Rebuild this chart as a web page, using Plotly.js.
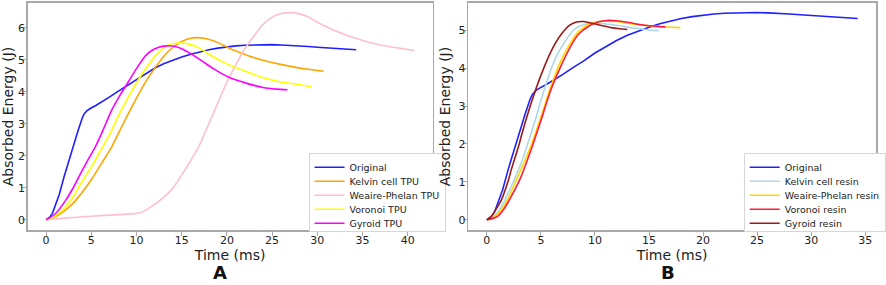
<!DOCTYPE html>
<html>
<head>
<meta charset="utf-8">
<script src="https://cdn.plot.ly/plotly-3.0.1.min.js"></script>
<style>html,body{margin:0;padding:0;background:#fff;}#chart{width:886px;height:285px;}</style>
</head>
<body>
<div id="chart"></div>
<script>
// ---- Data ----
const originalT = [0,0.4,0.7,1,1.45,2,2.36,3,3.5,4,4.2,4.5,4.8,5.5,6,7,8,8.9,10,11,12,13,14,15,16,17,18,19,20,21,22,23,24,25,26,27,28,29,30,31,32,33,34.3];
const originalE = [0,0.08,0.2,0.42,0.78,1.35,1.7,2.28,2.75,3.18,3.3,3.4,3.46,3.57,3.65,3.83,4.02,4.18,4.4,4.57,4.73,4.87,4.98,5.08,5.17,5.25,5.31,5.36,5.4,5.43,5.45,5.46,5.47,5.47,5.46,5.45,5.43,5.41,5.39,5.37,5.35,5.33,5.31];

const kelvinTpuT = [0,1,2,3,3.64,4,5,5.45,6,7,7.27,8,9,10,11,12,13,14,15,16,16.7,17.5,18.5,19.5,20.3,21,22.2,24,25.8,27.6,29,30.7];
const kelvinTpuE = [0,0.09,0.27,0.52,0.73,0.86,1.25,1.45,1.7,2.15,2.28,2.7,3.26,3.8,4.3,4.72,5.1,5.38,5.57,5.67,5.69,5.67,5.59,5.47,5.35,5.27,5.14,4.98,4.86,4.76,4.7,4.64];

const weaireTpuT = [0,2,4,6,8,10,10.5,11,12,13,14,15,16,17,18,19,20,21,22,23,24,25,26,27,28,29,30,31,32,33,34,35,36,37,38,39,40,40.7];
const weaireTpuE = [0,0.05,0.09,0.13,0.16,0.2,0.23,0.3,0.48,0.7,0.98,1.4,1.85,2.35,3.0,3.65,4.3,4.85,5.35,5.75,6.1,6.33,6.44,6.47,6.43,6.33,6.17,6.03,5.9,5.79,5.69,5.6,5.52,5.46,5.41,5.36,5.32,5.29];

const voronoiTpuT = [0,1,2,3,3.64,4,5,5.45,6,7,7.27,8,9,10,10.9,12,12.7,13.5,14.5,15,16,16.7,17.5,18.5,19.5,20.3,22.2,24,25.8,27.6,29.4];
const voronoiTpuE = [0,0.12,0.36,0.72,1.04,1.2,1.65,1.87,2.15,2.65,2.8,3.25,3.78,4.28,4.67,5.1,5.3,5.45,5.52,5.52,5.47,5.4,5.27,5.09,4.94,4.83,4.62,4.44,4.31,4.24,4.15];

const gyroidTpuT = [0,1,2.2,3,3.64,4.5,5.45,6.3,7.27,8.2,9.1,10,10.9,11.6,12.4,13.3,14.2,15,16,17.2,18.5,20.3,22.2,24,25.5,26.7];
const gyroidTpuE = [0,0.18,0.62,1.0,1.35,1.8,2.28,2.8,3.43,3.9,4.31,4.72,5.09,5.27,5.38,5.43,5.42,5.34,5.19,4.97,4.72,4.44,4.26,4.13,4.08,4.06];

const kelvinResinT = [0,0.5,1,1.5,2,2.5,3,3.5,4,4.5,5,5.5,6,6.5,7,7.5,8,8.5,9,9.8,10.5,11.5,12.3,13.3,14.4,15.2,15.9];
const kelvinResinE = [0,0.05,0.2,0.42,0.72,1.03,1.37,1.75,2.2,2.65,3.15,3.6,4.02,4.35,4.6,4.82,5.0,5.1,5.15,5.18,5.18,5.15,5.12,5.07,5.03,5.0,4.99];

const weaireResinT = [0,0.5,1,1.5,2,2.86,3.5,4.08,5,5.9,6.8,7.7,8.5,9.5,10.3,11,12,13,14,15,16,17,17.9];
const weaireResinE = [0,0.04,0.15,0.33,0.58,1.14,1.55,1.95,2.71,3.5,4.16,4.65,4.97,5.17,5.23,5.24,5.23,5.19,5.15,5.12,5.09,5.08,5.07];

const voronoiResinT = [0,0.5,1,1.5,2.25,3.17,4.08,5,5.9,6.8,7.7,8.5,9.5,10.3,11.1,12,13,14,15,16,16.5];
const voronoiResinE = [0,0.03,0.09,0.25,0.61,1.14,1.84,2.62,3.41,4.02,4.55,4.9,5.12,5.22,5.26,5.25,5.21,5.16,5.12,5.1,5.09];

const gyroidResinT = [0,0.43,1,1.34,2,2.25,3,3.17,4.08,5,5.9,6.8,7.7,8.3,8.9,9.5,10.1,10.7,11.5,12.3,13];
const gyroidResinE = [0,0.09,0.35,0.52,1.05,1.31,2.0,2.19,3.06,3.81,4.42,4.86,5.14,5.22,5.23,5.2,5.16,5.12,5.07,5.04,5.02];

const xTitle = 'Time (ms)';
const yTitle = 'Absorbed Energy (J)';
const panelLabels = ['A', 'B'];

// ---- Traces ----
function tr(x, y, name, color, ax, leg, shape) {
  return {x: x, y: y, name: name, type: 'scatter', mode: 'lines',
    line: {color: color, width: 1.6, shape: shape || 'spline', smoothing: 0.6},
    xaxis: ax === 2 ? 'x2' : 'x', yaxis: ax === 2 ? 'y2' : 'y', legend: leg};
}
const data = [
  tr(originalT, originalE, 'Original', '#1f1fff', 1, 'legend', 'linear'),
  tr(kelvinTpuT, kelvinTpuE, 'Kelvin cell TPU', '#ffa500', 1, 'legend'),
  tr(weaireTpuT, weaireTpuE, 'Weaire-Phelan TPU', '#ffc0cb', 1, 'legend'),
  tr(voronoiTpuT, voronoiTpuE, 'Voronoi TPU', '#ffff00', 1, 'legend'),
  tr(gyroidTpuT, gyroidTpuE, 'Gyroid TPU', '#ff00ff', 1, 'legend'),
  tr(originalT, originalE, 'Original', '#1f1fff', 2, 'legend2', 'linear'),
  tr(kelvinResinT, kelvinResinE, 'Kelvin cell resin', '#add8e6', 2, 'legend2'),
  tr(weaireResinT, weaireResinE, 'Weaire-Phelan resin', '#ffd700', 2, 'legend2'),
  tr(voronoiResinT, voronoiResinE, 'Voronoi resin', '#ff1a3c', 2, 'legend2'),
  tr(gyroidResinT, gyroidResinE, 'Gyroid resin', '#9b1b1b', 2, 'legend2')
];

const font = {family: 'DejaVu Sans, sans-serif', color: '#222'};
function axis(extra) {
  return Object.assign({
    showline: true, mirror: true, linecolor: '#a8a8a8', linewidth: 1.6,
    showgrid: false, zeroline: false, ticks: 'outside', ticklen: 4, tickwidth: 1,
    tickcolor: '#a8a8a8', ticklabelstandoff: -5,
    tickfont: {size: 11, family: font.family, color: '#222'}
  }, extra);
}
const legendStyle = {yanchor: 'top', xanchor: 'left', y: 0.338, bgcolor: '#fff',
  bordercolor: '#d6d6d6', borderwidth: 1, font: {size: 9.5, color: '#222'},
  itemwidth: 30, tracegroupgap: 0};
const layout = {
  width: 886, height: 285,
  margin: {l: 0, r: 0, t: 3, b: 55},
  paper_bgcolor: '#fff', plot_bgcolor: '#fff',
  font: font, showlegend: true,
  xaxis: axis({domain: [0.0316, 0.4932], range: [-2.03, 42.74], dtick: 5, anchor: 'y',
    title: {text: xTitle, font: {size: 14}, standoff: 1}}),
  yaxis: axis({domain: [0, 1], range: [-0.32, 6.77], dtick: 1, anchor: 'x',
    title: {text: yTitle, font: {size: 14}, standoff: 4}}),
  xaxis2: axis({domain: [0.5339, 0.9989], range: [-1.72, 36.0], dtick: 5, anchor: 'y2',
    title: {text: xTitle, font: {size: 14}, standoff: 1}}),
  yaxis2: axis({domain: [0, 1], range: [-0.27, 5.72], dtick: 1, anchor: 'x2',
    title: {text: yTitle, font: {size: 14}, standoff: 4}}),
  legend: Object.assign({x: 0.3518}, legendStyle),
  legend2: Object.assign({x: 0.848}, legendStyle),
  annotations: [
    {text: '<b>' + panelLabels[0] + '</b>', x: 0.2506, y: -0.242, xref: 'paper', yref: 'paper', showarrow: false,
      font: {size: 18, color: '#111'}, xanchor: 'center', yanchor: 'bottom'},
    {text: '<b>' + panelLabels[1] + '</b>', x: 0.762, y: -0.242, xref: 'paper', yref: 'paper', showarrow: false,
      font: {size: 18, color: '#111'}, xanchor: 'center', yanchor: 'bottom'}
  ]
};
Plotly.newPlot('chart', data, layout, {displayModeBar: false, staticPlot: true}).then(function (gd) {
  // tighten legend row spacing to match the compact reference legend
  ['legend', 'legend2'].forEach(function (id) {
    var lg = gd.querySelector('g.' + id);
    if (!lg) return;
    var items = lg.querySelectorAll('g.traces');
    if (!items.length) return;
    var m = /translate\(\s*([-\d.]+)[ ,]+([-\d.]+)/.exec(items[0].getAttribute('transform') || '');
    var x0 = m ? parseFloat(m[1]) : 1, y0 = m ? parseFloat(m[2]) : 10;
    var step = 14;
    var ny0 = y0 - 1.5;
    items.forEach(function (it, i) {
      it.setAttribute('transform', 'translate(' + x0 + ',' + (ny0 + i * step) + ')');
    });
    var bg = lg.querySelector('rect.bg');
    if (bg) bg.setAttribute('height', ny0 + (items.length - 1) * step + 8);
  });
});
</script>
</body>
</html>
